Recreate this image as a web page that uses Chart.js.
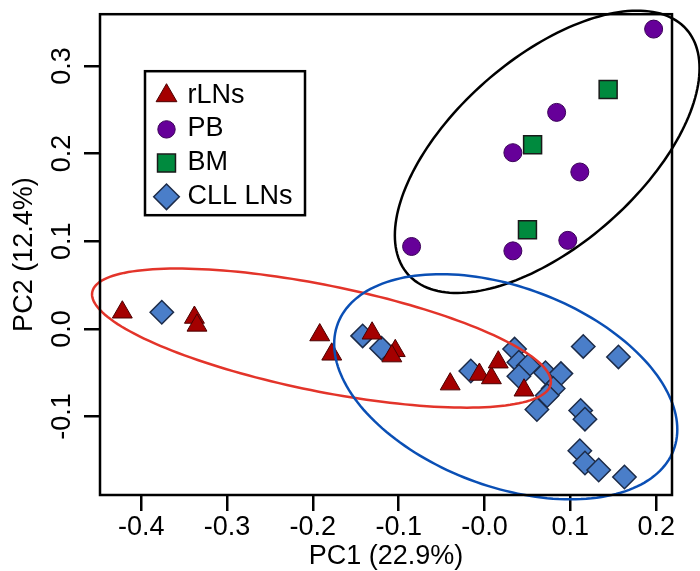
<!DOCTYPE html>
<html>
<head>
<meta charset="utf-8">
<script src="https://cdn.jsdelivr.net/npm/chart.js@4/dist/chart.umd.min.js"></script>
<style>
  body { margin: 0; background: #fff; }
  canvas { display: block; }
</style>
</head>
<body>
<canvas id="pca" width="700" height="571"></canvas>
<script>
// group names (legend order)
var groupNames = ['rLNs', 'PB', 'BM', 'CLL LNs'];

// PC1 / PC2 scores
var rlnsX = [-0.422, -0.338, -0.335, -0.192, -0.178, -0.131, -0.104, -0.108, -0.040, -0.006, 0.008, 0.016, 0.046];
var rlnsY = [0.019, 0.013, 0.004, -0.007, -0.029, -0.005, -0.025, -0.031, -0.063, -0.052, -0.056, -0.038, -0.070];

var pbX = [0.197, 0.084, 0.033, 0.111, -0.085, 0.033, 0.097];
var pbY = [0.342, 0.247, 0.201, 0.179, 0.094, 0.089, 0.101];

var bmX = [0.144, 0.056, 0.050];
var bmY = [0.273, 0.210, 0.113];

var cllX = [-0.376, -0.142, -0.120, -0.016, 0.035, 0.040, 0.051, 0.040, 0.071, 0.089, 0.080,
            0.073, 0.061, 0.115, 0.156, 0.112, 0.117, 0.111, 0.117, 0.133, 0.163];
var cllY = [0.019, -0.008, -0.022, -0.048, -0.023, -0.038, -0.042, -0.054, -0.050, -0.051, -0.068,
            -0.076, -0.092, -0.020, -0.032, -0.093, -0.103, -0.139, -0.153, -0.161, -0.169];

// ellipses in data units: centre, and the two half axis vectors
var ellipseCentres = [[0.073, 0.202], [-0.190, -0.0105], [0.0247, -0.066]];
var ellipseAxisU = [[0.162, 0.140], [0.267, -0.0527], [0.1955, -0.0724]];
var ellipseAxisV = [[-0.0725, 0.0795], [0.0124, 0.0593], [0.0416, 0.1061]];
var ellipseColors = ['#000000', '#e3342a', '#0a4fb5'];

// axes
var xRange = [-0.448, 0.2184];
var yRange = [-0.1895, 0.359];
var xTickValues = [-0.4, -0.3, -0.2, -0.1, 0.0, 0.1, 0.2];
var xTickLabels = ['-0.4', '-0.3', '-0.2', '-0.1', '-0.0', '0.1', '0.2'];
var yTickValues = [-0.1, 0.0, 0.1, 0.2, 0.3];
var yTickLabels = ['-0.1', '0.0', '0.1', '0.2', '0.3'];
var xTitle = 'PC1 (22.9%)';
var yTitle = 'PC2 (12.4%)';

function toPoints(xs, ys) {
    var pts = [];
    for (var i = 0; i < xs.length; i++) pts.push({x: xs[i], y: ys[i]});
    return pts;
}

function tickLabel(values, labels) {
    return function (value) {
        for (var i = 0; i < values.length; i++) {
            if (Math.abs(values[i] - value) < 1e-6) return labels[i];
        }
        return '';
    };
}

// marker look, shared by datasets and the legend box
var markers = [
    {style: 'triangle', r: 11.5, fill: '#a40000', line: '#4a0000', lw: 1, legendR: 12},
    {style: 'circle', r: 9, fill: '#660099', line: '#3a0058', lw: 1, legendR: 8.7},
    {style: 'rect', r: 12.7, fill: '#008a3e', line: '#1a1a1a', lw: 1.5, legendR: 12.7},
    {style: 'rectRot', r: 11.7, fill: '#4a7ec9', line: '#1c2b48', lw: 1.5, legendR: 12.8}
];

function drawMarker(ctx, m, x, y, r) {
    ctx.save();
    ctx.beginPath();
    if (m.style === 'triangle') {
        ctx.moveTo(x, y - r);
        ctx.lineTo(x + r * Math.sin(2 * Math.PI / 3), y + r / 2);
        ctx.lineTo(x - r * Math.sin(2 * Math.PI / 3), y + r / 2);
        ctx.closePath();
    } else if (m.style === 'circle') {
        ctx.arc(x, y, r, 0, Math.PI * 2);
    } else if (m.style === 'rect') {
        var s = Math.SQRT1_2 * r;
        ctx.rect(x - s, y - s, 2 * s, 2 * s);
    } else {
        ctx.moveTo(x - r, y);
        ctx.lineTo(x, y - r);
        ctx.lineTo(x + r, y);
        ctx.lineTo(x, y + r);
        ctx.closePath();
    }
    ctx.fillStyle = m.fill;
    ctx.fill();
    ctx.lineWidth = m.lw;
    ctx.strokeStyle = m.line;
    ctx.stroke();
    ctx.restore();
}

// frame, ellipses and boxed legend
var extrasPlugin = {
    id: 'extras',
    afterDatasetsDraw: function (chart) {
        var ctx = chart.ctx;
        var xs = chart.scales.x, ys = chart.scales.y;
        var area = chart.chartArea;

        // ellipses
        for (var e = 0; e < ellipseCentres.length; e++) {
            var c = ellipseCentres[e], u = ellipseAxisU[e], v = ellipseAxisV[e];
            ctx.save();
            ctx.beginPath();
            for (var k = 0; k <= 180; k++) {
                var t = k / 180 * Math.PI * 2;
                var px = xs.getPixelForValue(c[0] + u[0] * Math.cos(t) + v[0] * Math.sin(t));
                var py = ys.getPixelForValue(c[1] + u[1] * Math.cos(t) + v[1] * Math.sin(t));
                if (k === 0) ctx.moveTo(px, py); else ctx.lineTo(px, py);
            }
            ctx.closePath();
            ctx.lineWidth = 2.5;
            ctx.strokeStyle = ellipseColors[e];
            ctx.stroke();
            ctx.restore();
        }

        // frame
        ctx.save();
        ctx.lineWidth = 2.5;
        ctx.strokeStyle = '#000';
        ctx.strokeRect(area.left, area.top, area.right - area.left, area.bottom - area.top);
        ctx.restore();

        // legend box
        var bx = area.left + 45, by = area.top + 57, bw = 160, bh = 144;
        ctx.save();
        ctx.fillStyle = '#fff';
        ctx.fillRect(bx, by, bw, bh);
        ctx.lineWidth = 2.5;
        ctx.strokeStyle = '#000';
        ctx.strokeRect(bx, by, bw, bh);
        ctx.font = '27px "Liberation Sans", Arial, sans-serif';
        ctx.fillStyle = '#000';
        ctx.textBaseline = 'middle';
        ctx.textAlign = 'left';
        for (var i = 0; i < groupNames.length; i++) {
            var rowY = by + 23 + i * 33.7;
            drawMarker(ctx, markers[i], bx + 21.5, rowY + 1.5, markers[i].legendR);
            ctx.fillText(groupNames[i], bx + 42.5, rowY + 1);
        }
        ctx.restore();
    }
};

var groupX = [rlnsX, pbX, bmX, cllX];
var groupY = [rlnsY, pbY, bmY, cllY];
var datasets = [];
for (var g = 0; g < groupNames.length; g++) {
    datasets.push({
        label: groupNames[g],
        data: toPoints(groupX[g], groupY[g]),
        pointStyle: markers[g].style,
        pointRadius: markers[g].r,
        pointHoverRadius: markers[g].r,
        backgroundColor: markers[g].fill,
        borderColor: markers[g].line,
        borderWidth: markers[g].lw,
        clip: false
    });
}

Chart.defaults.font.family = '"Liberation Sans", Arial, sans-serif';
Chart.defaults.color = '#000';

new Chart(document.getElementById('pca').getContext('2d'), {
    type: 'scatter',
    data: {datasets: datasets},
    options: {
        responsive: false,
        animation: false,
        devicePixelRatio: 1,
        layout: {padding: {top: 11, right: 28, left: 0, bottom: 0}},
        plugins: {legend: {display: false}, tooltip: {enabled: false}},
        scales: {
            x: {
                type: 'linear',
                min: xRange[0],
                max: xRange[1],
                afterFit: function (scale) {
                    scale.height = 76;
                    scale.paddingLeft = 0;
                    scale.paddingRight = 0;
                },
                border: {display: false},
                grid: {display: true, drawOnChartArea: false, drawTicks: true, tickLength: 16, color: '#000', lineWidth: 2.5},
                ticks: {
                    stepSize: 0.1,
                    includeBounds: false,
                    padding: 0,
                    maxRotation: 0,
                    font: {size: 27},
                    callback: tickLabel(xTickValues, xTickLabels)
                },
                title: {display: true, text: xTitle, font: {size: 27, lineHeight: 1}, padding: 0.5}
            },
            y: {
                type: 'linear',
                min: yRange[0],
                max: yRange[1],
                afterFit: function (scale) {
                    scale.width = 100;
                    scale.paddingTop = 0;
                    scale.paddingBottom = 0;
                },
                border: {display: false},
                grid: {display: true, drawOnChartArea: false, drawTicks: true, tickLength: 16, color: '#000', lineWidth: 2.5},
                ticks: {
                    stepSize: 0.1,
                    includeBounds: false,
                    padding: -2,
                    minRotation: 90,
                    maxRotation: 90,
                    crossAlign: 'center',
                    font: {size: 27},
                    callback: tickLabel(yTickValues, yTickLabels)
                },
                title: {display: true, text: yTitle, font: {size: 27, lineHeight: 1}, padding: 11}
            }
        }
    },
    plugins: [extrasPlugin]
});
</script>
</body>
</html>
